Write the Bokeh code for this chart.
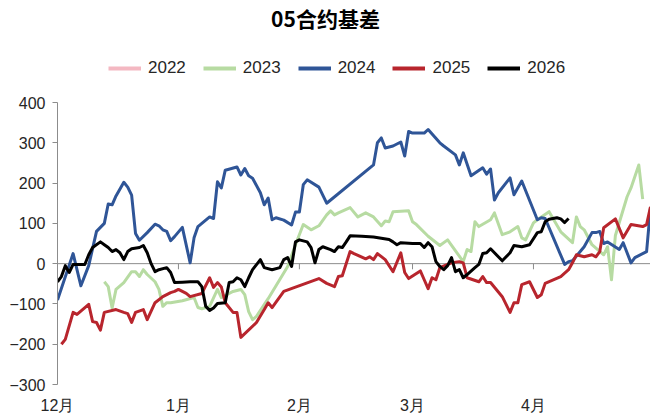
from bokeh.plotting import figure
from bokeh.layouts import column
from bokeh.models import (ColumnDataSource, Span, Legend, LegendItem, FixedTicker,
                          CustomJSTickFormatter, Range1d, Label)
from bokeh.embed import file_html
from bokeh.resources import INLINE
import pandas as pd

# ---------------- data (basis of the May contract, by season) ----------------
title_text = "05合约基差"
years = ["2022", "2023", "2024", "2025", "2026"]
colors = ["#F4B8C2", "#B7DBA2", "#2F5597", "#B8252D", "#000000"]

month_ticks = ["12-01", "01-01", "02-01", "03-01", "04-01"]
y_ticks = [-300, -200, -100, 0, 100, 200, 300, 400]

# 2022 appears only in the legend (no visible line in the chart)
d2022 = ["12-01"]
v2022 = [float("nan")]

d2023 = ["12-13", "12-14", "12-15", "12-16", "12-18", "12-20", "12-21", "12-22", "12-23", "12-24",
         "12-26", "12-27", "12-28", "12-29", "12-30", "01-02", "01-05", "01-06", "01-07", "01-09",
         "01-11", "01-12", "01-15", "01-17", "01-18", "01-19", "01-20", "01-21", "01-24", "01-29",
         "01-31", "02-02", "02-04", "02-06", "02-08", "02-09", "02-10", "02-11", "02-14", "02-16",
         "02-18", "02-20", "02-22", "02-23", "02-24", "02-25", "02-29", "03-01", "03-02", "03-05",
         "03-08", "03-10", "03-14", "03-15", "03-16", "03-17", "03-18", "03-21", "03-22", "03-24",
         "03-26", "03-28", "03-29", "03-30", "04-01", "04-02", "04-05", "04-08", "04-11", "04-12",
         "04-13", "04-14", "04-16", "04-19", "04-20", "04-21", "04-22", "04-25", "04-26", "04-28",
         "04-29"]
v2023 = [-45, -57, -110, -64, -47, -20, -20, -32, -15, -27,
         -45, -64, -106, -97, -97, -92, -84, -109, -112, -106,
         -64, -84, -69, -64, -77, -119, -139, -131, -87, -7,
         47, 97, 84, 94, 121, 131, 121, 126, 139, 116,
         126, 116, 94, 106, 104, 129, 131, 104, 97, 68,
         45, 59, 5, 35, 30, 104, 92, 109, 126, 72,
         79, 92, 64, 59, 101, 109, 129, 79, 52, 116,
         92, 84, 47, 22, 42, -40, 70, 166, 188, 245,
         160]

d2024 = ["12-01", "12-05", "12-07", "12-09", "12-11", "12-13", "12-14", "12-15", "12-16", "12-18",
         "12-19", "12-20", "12-21", "12-22", "12-24", "12-26", "12-27", "12-28", "12-29", "12-30",
         "12-31", "01-02", "01-04", "01-05", "01-06", "01-09", "01-10", "01-11", "01-12", "01-13",
         "01-16", "01-17", "01-18", "01-19", "01-20", "01-22", "01-23", "01-24", "01-25", "01-26",
         "01-28", "01-30", "01-31", "02-01", "02-02", "02-03", "02-06", "02-08", "02-20", "02-21",
         "02-22", "02-23", "02-25", "02-27", "02-28", "02-29", "03-01", "03-04", "03-05", "03-08",
         "03-09", "03-12", "03-13", "03-14", "03-16", "03-19", "03-20", "03-21", "03-22", "03-23",
         "03-26", "03-27", "03-29", "04-02", "04-03", "04-04", "04-09", "04-10", "04-11", "04-14",
         "04-16", "04-17", "04-18", "04-19", "04-20", "04-23", "04-24", "04-26", "04-27", "04-30",
         "05-01"]
v2024 = [-90, 25, -55, -5, 80, 100, 148, 146, 168, 202,
         190, 170, 75, 58, 77, 98, 94, 84, 80, 57,
         67, 90, 2, 64, 92, 116, 112, 203, 188, 232,
         240, 220, 236, 218, 212, 176, 146, 163, 109, 114,
         108, 96, 128, 128, 196, 208, 190, 150, 245, 300,
         312, 287, 292, 302, 267, 328, 324, 324, 333, 300,
         292, 270, 245, 275, 218, 238, 222, 235, 158, 176,
         213, 171, 205, 109, 114, 112, -2, 5, 7, 42,
         77, 77, 80, 50, 54, 35, 52, 2, 15, 30,
         139]

d2025 = ["12-02", "12-03", "12-05", "12-06", "12-09", "12-10", "12-11", "12-12", "12-13", "12-16",
         "12-18", "12-19", "12-20", "12-21", "12-23", "12-24", "12-26", "12-28", "12-30", "12-31",
         "01-01", "01-03", "01-04", "01-07", "01-09", "01-10", "01-11", "01-12", "01-13", "01-15",
         "01-16", "01-17", "01-21", "01-23", "01-24", "01-25", "01-28", "02-06", "02-08", "02-10",
         "02-11", "02-12", "02-14", "02-15", "02-18", "02-19", "02-20", "02-21", "02-23", "02-25",
         "02-27", "02-28", "02-29", "03-03", "03-04", "03-05", "03-06", "03-07", "03-08", "03-10",
         "03-11", "03-13", "03-14", "03-15", "03-18", "03-19", "03-20", "03-21", "03-24", "03-26",
         "03-27", "03-28", "03-29", "03-31", "04-02", "04-03", "04-04", "04-08", "04-10", "04-11",
         "04-12", "04-14", "04-16", "04-17", "04-18", "04-19", "04-22", "04-24", "04-26", "04-29",
         "04-30", "05-01"]
v2025 = [-200, -188, -121, -126, -101, -144, -146, -165, -121, -114,
         -121, -124, -146, -121, -114, -139, -97, -82, -72, -69,
         -64, -74, -82, -74, -35, -59, -47, -58, -97, -121,
         -121, -183, -146, -114, -97, -109, -69, -37, -49, -57,
         -32, -30, 30, 25, 12, 17, 10, 25, 10, -20,
         27, -22, -37, -18, -40, -62, -35, -40, -10, -2,
         2, 5, 2, -35, -45, -32, -47, -47, -82, -121,
         -97, -97, -52, -45, -84, -77, -49, -32, -15, 2,
         22, 17, 22, 17, 30, 89, 111, 64, 97, 92,
         97, 141]

d2026 = ["12-01", "12-02", "12-03", "12-04", "12-05", "12-08", "12-09", "12-10", "12-12", "12-13",
         "12-14", "12-15", "12-16", "12-17", "12-18", "12-19", "12-20", "12-22", "12-23", "12-24",
         "12-25", "12-26", "12-27", "12-29", "12-30", "12-31", "01-02", "01-04", "01-06", "01-07",
         "01-08", "01-09", "01-10", "01-11", "01-13", "01-14", "01-15", "01-16", "01-17", "01-18",
         "01-19", "01-20", "01-22", "01-23", "01-25", "01-27", "01-28", "01-29", "01-30", "01-31",
         "02-01", "02-03", "02-04", "02-05", "02-06", "02-07", "02-09", "02-10", "02-11", "02-12",
         "02-13", "02-14", "02-17", "02-20", "02-24", "02-25", "02-26", "02-27", "03-01", "03-03",
         "03-04", "03-05", "03-06", "03-07", "03-08", "03-09", "03-10", "03-11", "03-12", "03-13",
         "03-14", "03-15", "03-17", "03-18", "03-19", "03-20", "03-21", "03-22", "03-24", "03-26",
         "03-27", "03-29", "03-31", "04-02", "04-03", "04-04", "04-05", "04-07", "04-08", "04-09",
         "04-10"]
v2026 = [-45, -32, -5, -22, -2, -2, 22, 40, 54, 47,
         40, 30, 35, 27, 10, 30, 37, 40, 45, 27,
         0, -20, -15, -10, -22, -47, -46, -45, -45, -57,
         -106, -116, -110, -99, -97, -47, -45, -35, -40, -57,
         -35, -15, 10, -10, -15, -10, 10, 15, -7, 54,
         59, 54, 40, 2, 35, 42, 35, 30, 42, 40,
         54, 69, 68, 66, 60, 54, 47, 52, 50, 50,
         40, 52, 42, 5, -7, -15, -5, 15, -20, -15,
         -35, -27, -10, -2, 25, 27, 37, 27, 7, 27,
         45, 42, 47, 77, 79, 104, 110, 114, 111, 102,
         112]

series_dates = [d2022, d2023, d2024, d2025, d2026]
series_vals = [v2022, v2023, v2024, v2025, v2026]


def to_ts(md):
    m, d = md.split("-")
    y = 2023 if m == "12" else 2024
    return pd.Timestamp(year=y, month=int(m), day=int(d))


FIG_W = 650
TOTAL_H = 416
TOP_H = 94
MAIN_H = TOTAL_H - TOP_H
FRAME_L = 57   # the column aligns the header frame with the chart frame

# ---------------- header figure: title + legend ----------------
head = figure(width=FIG_W, height=TOP_H, output_backend="svg", toolbar_location=None,
              x_range=Range1d(0, 1), y_range=Range1d(0, 1), min_border=0,
              x_axis_location=None, y_axis_location=None)
head.grid.visible = False
head.outline_line_color = None

head.add_layout(Label(x=325 - FRAME_L, y=TOP_H - 17, x_units="screen", y_units="screen",
                      text=title_text, text_align="center", text_baseline="middle",
                      text_font="Noto Sans CJK SC", text_font_size="21px",
                      text_font_style="bold", text_color="#000000"))

legend_items = []
for yr, col in zip(years, colors):
    proxy = head.line(x=[float("nan")], y=[float("nan")], line_color=col, line_width=4)
    legend_items.append(LegendItem(label=yr, renderers=[proxy]))

legend = Legend(items=legend_items, orientation="horizontal", location=(108 - FRAME_L, 16),
                border_line_color=None, background_fill_alpha=0,
                label_text_font="Liberation Sans", label_text_font_size="17px",
                label_text_color="#262626", glyph_width=33, glyph_height=18,
                label_standoff=7, spacing=17, padding=0, margin=0)
head.add_layout(legend, "center")

# ---------------- main chart ----------------
p = figure(width=FIG_W, height=MAIN_H, x_axis_type="datetime", output_backend="svg",
           toolbar_location=None, x_range=Range1d(to_ts("12-01"), to_ts("05-01")),
           y_range=Range1d(-300, 400),
           min_border_left=FRAME_L, min_border_right=0, min_border_top=8, min_border_bottom=0)
p.grid.visible = False
p.outline_line_color = None
p.background_fill_color = "white"

axis_grey = "#8C8C8C"
zero = Span(location=0, dimension="width", line_color=axis_grey, line_width=1, level="underlay")
p.add_layout(zero)
tick_x = [to_ts(m) for m in month_ticks[1:]]
p.segment(x0=tick_x, y0=[0] * len(tick_x), x1=tick_x, y1=[-14] * len(tick_x),
          line_color=axis_grey, line_width=1, level="underlay")

for yr, col, ds, vs in zip(years, colors, series_dates, series_vals):
    src = ColumnDataSource(dict(x=[to_ts(d) for d in ds], y=vs))
    p.line("x", "y", source=src, line_color=col, line_width=3, line_join="round")

# y axis
p.yaxis.ticker = FixedTicker(ticks=y_ticks)
p.yaxis.formatter = CustomJSTickFormatter(
    code="return tick < 0 ? '\\u2212' + Math.abs(tick) : tick.toString();")
p.yaxis.axis_line_color = axis_grey
p.yaxis.major_tick_line_color = axis_grey
p.yaxis.major_tick_out = 5
p.yaxis.major_tick_in = 0
p.yaxis.minor_tick_line_color = None
p.yaxis.major_label_text_font = "Liberation Sans"
p.yaxis.major_label_text_font_size = "16px"
p.yaxis.major_label_text_color = "#262626"
p.yaxis.major_label_standoff = 7

# x axis (labels only, the axis line sits at zero)
p.xaxis.ticker = FixedTicker(ticks=[to_ts(m).value // 10**6 for m in month_ticks])
p.xaxis.formatter = CustomJSTickFormatter(
    code="const d = new Date(tick); return (d.getUTCMonth() + 1) + '月';")
p.xaxis.axis_line_color = None
p.xaxis.major_tick_line_color = None
p.xaxis.major_tick_out = 0
p.xaxis.major_tick_in = 0
p.xaxis.minor_tick_line_color = None
p.xaxis.minor_tick_out = 0
p.xaxis.major_label_text_font = "Liberation Sans"
p.xaxis.major_label_text_font_size = "16px"
p.xaxis.major_label_text_color = "#262626"
p.xaxis.major_label_standoff = 12

layout = column(head, p, spacing=0)
open("out.html", "w").write(file_html(layout, INLINE))
